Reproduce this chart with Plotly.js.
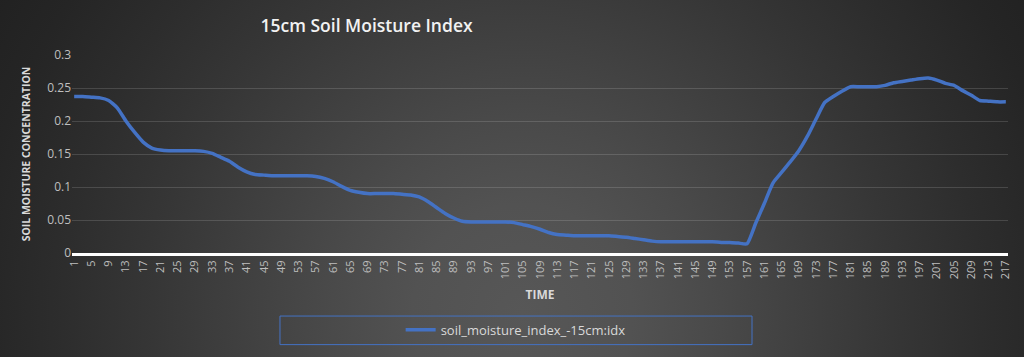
<!DOCTYPE html>
<html>
<head>
<meta charset="utf-8">
<script src="https://cdn.plot.ly/plotly-3.0.1.min.js"></script>
<style>
  html, body { margin: 0; padding: 0; width: 1024px; height: 357px; overflow: hidden; }
  body {
    background: radial-gradient(circle at 51% 88%, #575757 0px, #525252 110px, #4a4a4a 190px, #404040 280px, #363636 370px, #2d2d2d 460px, #252525 550px, #1f1f1f 650px);
  }
  #chart { width: 1024px; height: 357px; }
</style>
</head>
<body>
<div id="chart"></div>
<script>
// Time index (every second sample)
const timeIdx = [1,3,5,7,9,11,13,15,17,19,21,23,25,27,29,31,33,35,37,39,41,43,45,47,49,51,53,55,57,59,61,63,65,67,69,71,73,75,77,79,81,83,85,87,89,91,93,95,97,99,101,103,105,107,109,111,113,115,117,119,121,123,125,127,129,131,133,135,137,139,141,143,145,147,149,151,153,155,157,159,161,163,165,167,169,171,173,175,177,179,181,183,185,187,189,191,193,195,197,199,201,203,205,207,209,211,213,215,217];
// Soil moisture index values
const moisture = [0.237,0.237,0.236,0.235,0.231,0.220,0.200,0.183,0.168,0.159,0.156,0.155,0.155,0.155,0.155,0.154,0.151,0.145,0.139,0.130,0.123,0.119,0.118,0.117,0.117,0.117,0.117,0.117,0.116,0.113,0.108,0.101,0.095,0.092,0.090,0.090,0.090,0.090,0.089,0.088,0.085,0.078,0.069,0.060,0.053,0.048,0.047,0.047,0.047,0.047,0.047,0.046,0.043,0.040,0.036,0.031,0.028,0.027,0.026,0.026,0.026,0.026,0.026,0.025,0.024,0.022,0.020,0.018,0.017,0.017,0.017,0.017,0.017,0.017,0.017,0.016,0.016,0.015,0.014,0.045,0.075,0.106,0.122,0.138,0.155,0.177,0.203,0.228,0.237,0.245,0.252,0.252,0.252,0.252,0.254,0.258,0.260,0.262,0.264,0.265,0.262,0.257,0.254,0.246,0.239,0.231,0.230,0.229,0.229];
// Tick labels
const xTickVals = [1,5,9,13,17,21,25,29,33,37,41,45,49,53,57,61,65,69,73,77,81,85,89,93,97,101,105,109,113,117,121,125,129,133,137,141,145,149,153,157,161,165,169,173,177,181,185,189,193,197,201,205,209,213,217];
const xTickText = xTickVals.map(String);
const yTickVals = [0,0.05,0.1,0.15,0.2,0.25,0.3];
const yTickText = ["0","0.05","0.1","0.15","0.2","0.25","0.3"];

const trace = {
  x: timeIdx,
  y: moisture,
  type: 'scatter',
  mode: 'lines',
  name: 'soil_moisture_index_-15cm:idx',
  line: { color: '#4472C4', width: 3.5, shape: 'spline', smoothing: 0.5 }
};

const layout = {
  width: 1024,
  height: 357,
  paper_bgcolor: 'rgba(0,0,0,0)',
  plot_bgcolor: 'rgba(0,0,0,0)',
  margin: { l: 72, r: 16, t: 55, b: 101 },
  title: {
    text: '15cm Soil Moisture Index',
    font: { family: 'Open Sans, sans-serif', size: 17.5, color: '#f2f2f2', weight: 600 },
    xref: 'container', yref: 'container',
    x: 0.358, xanchor: 'center',
    y: 0.928, yanchor: 'middle'
  },
  xaxis: {
    range: [0.5, 217.5],
    tickmode: 'array',
    tickvals: xTickVals,
    ticktext: xTickText,
    tickangle: -90,
    tickfont: { family: 'Open Sans, sans-serif', size: 11, color: '#bfbfbf' },
    showgrid: false,
    zeroline: false,
    showline: true,
    linecolor: '#ffffff',
    linewidth: 3,
    ticks: '',
    title: {
      text: 'TIME',
      font: { family: 'Open Sans, sans-serif', size: 12, color: '#d9d9d9', weight: 700 },
      standoff: 13
    }
  },
  yaxis: {
    range: [0, 0.3],
    tickmode: 'array',
    tickvals: yTickVals,
    ticktext: yTickText,
    tickfont: { family: 'Open Sans, sans-serif', size: 12, color: '#bfbfbf' },
    showgrid: true,
    gridcolor: 'rgba(255,255,255,0.14)',
    gridwidth: 1,
    zeroline: false,
    showline: false,
    ticks: '',
    title: {
      text: 'SOIL MOISTURE CONCENTRATION',
      font: { family: 'Open Sans, sans-serif', size: 10.5, color: '#d9d9d9', weight: 700 },
      standoff: 14
    }
  },
  showlegend: true,
  legend: {
    orientation: 'h',
    x: 0.474, xanchor: 'center',
    y: -0.388, yanchor: 'middle',
    xref: 'paper', yref: 'paper',
    bgcolor: 'rgba(0,0,0,0)',
    borderwidth: 0,
    font: { family: 'Open Sans, sans-serif', size: 13, color: '#d9d9d9' }
  },
  shapes: [{
    type: 'rect', xref: 'paper', yref: 'paper',
    x0: 0.2222, x1: 0.7265, y0: -0.4627, y1: -0.3184,
    line: { color: '#4472C4', width: 1 },
    fillcolor: 'rgba(0,0,0,0)'
  }]
};

Plotly.newPlot('chart', [trace], layout, { displayModeBar: false, staticPlot: true });
</script>
</body>
</html>
